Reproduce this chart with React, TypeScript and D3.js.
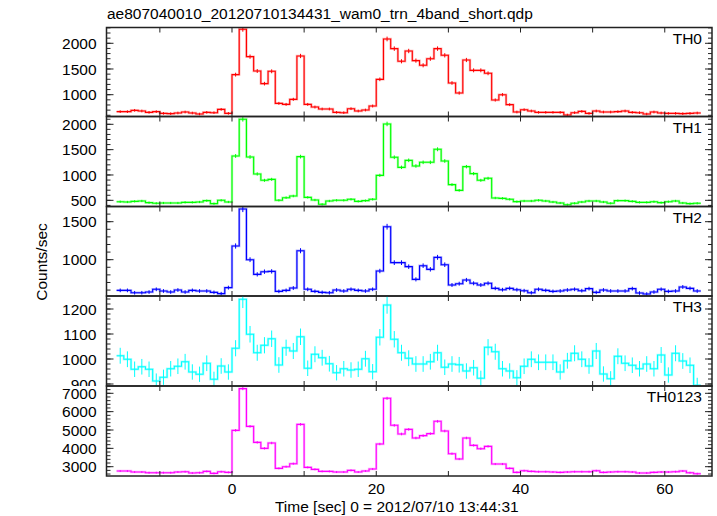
import React from "react";
import * as d3 from "d3";

const TITLE = "ae807040010_20120710134431_wam0_trn_4band_short.qdp";
const X_LABEL = "Time [sec] 0 = 2012/07/10 13:44:31";
const Y_LABEL = "Counts/sec";

const BIN_START = -16;
const BIN_WIDTH = 1;
const X_DOMAIN = [-17.4, 66.55];
const X_TICKS = [-10, 0, 10, 20, 30, 40, 50, 60];
const X_TICK_LABELS = [0, 20, 40, 60];

const TH0 = [670, 670, 696, 683, 657, 670, 637, 631, 644, 663, 644, 624, 657, 650, 715, 637,
  1390, 2273, 1740, 1461, 1215, 1455, 832, 812, 910, 1753, 812, 760, 722, 722, 657, 650, 728, 683,
  702, 780, 1299, 2084, 1896, 1650, 1850, 1663, 1572, 1700, 1896, 1766, 1228, 1033, 1675, 1474, 1474, 1416,
  897, 1000, 806, 663, 708, 683, 657, 657, 657, 657, 605, 650, 676, 637, 683, 663, 663, 670, 683, 657, 650,
  624, 663, 644, 637, 637, 631, 637, 644];

const TH1 = [473, 467, 480, 487, 454, 441, 447, 447, 447, 460, 460, 467, 493, 434, 500, 467,
  1375, 2099, 1355, 1020, 895, 914, 500, 552, 585, 1362, 559, 506, 421, 487, 500, 500, 520, 480,
  493, 520, 993, 2007, 1349, 1151, 1289, 1178, 1250, 1250, 1507, 1276, 809, 697, 1164, 1026, 895, 934,
  546, 539, 520, 474, 487, 487, 500, 487, 467, 447, 414, 441, 467, 487, 487, 467, 441, 493, 493, 480, 460,
  460, 473, 454, 473, 487, 447, 434, 441];

const TH2 = [596, 596, 565, 565, 574, 610, 588, 574, 601, 574, 596, 588, 588, 570, 553, 632,
  1180, 1667, 1000, 807, 842, 846, 583, 596, 627, 1118, 610, 583, 570, 565, 601, 588, 610, 596,
  588, 610, 851, 1434, 961, 961, 908, 741, 921, 873, 1031, 934, 667, 684, 733, 689, 667, 689,
  623, 605, 623, 605, 592, 565, 610, 596, 583, 588, 601, 610, 592, 619, 570, 601, 588, 588, 588, 619, 561,
  548, 574, 610, 583, 588, 641, 623, 588];

const TH3 = [1013, 999, 959, 969, 959, 912, 927, 961, 971, 989, 948, 939, 983, 919, 972, 948,
  1043, 1239, 1099, 1025, 1055, 1081, 976, 1045, 1032, 1089, 963, 1019, 1005, 981, 945, 961, 956,
  959, 1001, 949, 1087, 1216, 1079, 1025, 1003, 980, 980, 989, 1025, 967, 980, 977, 952, 965, 923,
  1047, 1029, 961, 952, 925, 971, 999, 987, 987, 987, 948, 993, 1023, 999, 972, 1032, 940, 921, 1011,
  983, 975, 961, 980, 961, 1016, 936, 1023, 992, 975, 895];

const TH0123 = [2764, 2764, 2709, 2709, 2673, 2673, 2673, 2673, 2709, 2727, 2655, 2673, 2745, 2636, 2727, 2691,
  4982, 7254, 5200, 4327, 4000, 4291, 2909, 3000, 3164, 5309, 2964, 2855, 2745, 2745, 2709, 2709, 2800, 2709,
  2764, 2873, 4236, 6727, 5255, 4782, 5036, 4564, 4691, 4800, 5473, 4945, 3709, 3418, 4564, 4164, 3982, 4109,
  3145, 3145, 2909, 2691, 2782, 2745, 2727, 2727, 2709, 2691, 2709, 2727, 2727, 2727, 2782, 2691, 2709,
  2727, 2727, 2709, 2655, 2655, 2691, 2709, 2709, 2727, 2764, 2673, 2618];

const PANEL_NAMES = ["TH0", "TH1", "TH2", "TH3", "TH0123"];
const PANEL_VALUES = [TH0, TH1, TH2, TH3, TH0123];
const PANEL_COLORS = ["#ff0000", "#00ff00", "#0000ff", "#00ffff", "#ff00ff"];
const PANEL_DOMAINS = [[576, 2307], [378, 2154], [522, 1700], [892, 1252], [2493, 7398]];
const PANEL_MAJOR = [[1000, 1500, 2000], [500, 1000, 1500, 2000], [1000, 1500], [900, 1000, 1100, 1200], [3000, 4000, 5000, 6000, 7000]];
const PANEL_MINOR_STEP = [100, 100, 100, 20, 200];

const W = 717;
const H = 516;
const LEFT = 106.5;
const RIGHT = 712;
const EDGES = [27.5, 116.5, 206.5, 296, 386, 476];
const FONT = "'Liberation Sans', Arial, Helvetica, sans-serif";
const FS = 15.5;
const FRAME = "#222";

export default function App() {
  const x = d3.scaleLinear().domain(X_DOMAIN).range([LEFT, RIGHT]);

  return (
    <svg width={W} height={H} style={{ position: "absolute", left: 0, top: 0, background: "#fff" }}
      fontFamily={FONT}>
      <rect x={0} y={0} width={W} height={H} fill="#fff" />
      <defs>
        {PANEL_NAMES.map((n, i) => (
          <clipPath id={`clip${i}`} key={n}>
            <rect x={LEFT} y={EDGES[i]} width={RIGHT - LEFT} height={EDGES[i + 1] - EDGES[i]} />
          </clipPath>
        ))}
        {PANEL_NAMES.map((n, i) => (
          <clipPath id={`lclip${i}`} key={`l${n}`}>
            <rect x={0} y={EDGES[i] - 12} width={LEFT} height={EDGES[i + 1] - EDGES[i] + 12} />
          </clipPath>
        ))}
      </defs>
      <text x={107} y={18.5} fontSize={FS} fill="#000">{TITLE}</text>
      {PANEL_NAMES.map((name, i) => {
        const vals = PANEL_VALUES[i];
        const top = EDGES[i];
        const bot = EDGES[i + 1];
        const y = d3.scaleLinear().domain(PANEL_DOMAINS[i]).range([bot, top]);
        const pts: [number, number][] = [];
        vals.forEach((v, k) => {
          const t0 = BIN_START + k * BIN_WIDTH;
          pts.push([t0, v]);
          pts.push([t0 + BIN_WIDTH, v]);
        });
        const line = d3.line<[number, number]>().x((d) => x(d[0])).y((d) => y(d[1]));
        const step = PANEL_MINOR_STEP[i];
        const [d0, d1] = PANEL_DOMAINS[i];
        const minor = d3.range(Math.ceil(d0 / step) * step, d1, step);
        const color = PANEL_COLORS[i];
        return (
          <g key={name}>
            <g clipPath={`url(#clip${i})`}>
              <path d={line(pts) || ""} fill="none" stroke={color} strokeWidth={2.4} strokeOpacity={0.3} />
              <path d={line(pts) || ""} fill="none" stroke={color} strokeWidth={1.1} />
              {vals.map((v, k) => {
                const tc = BIN_START + (k + 0.5) * BIN_WIDTH;
                const e = Math.sqrt(v / BIN_WIDTH);
                return (
                  <line key={k} x1={x(tc)} x2={x(tc)} y1={y(v - e)} y2={y(v + e)} stroke={color} strokeWidth={1} />
                );
              })}
            </g>
            {minor.map((m) => (
              <g key={`m${m}`}>
                <line x1={LEFT} x2={LEFT + 4} y1={y(m)} y2={y(m)} stroke={FRAME} strokeWidth={1} />
                <line x1={RIGHT} x2={RIGHT - 4} y1={y(m)} y2={y(m)} stroke={FRAME} strokeWidth={1} />
              </g>
            ))}
            {PANEL_MAJOR[i].map((m) => (
              <g key={`M${m}`}>
                <line x1={LEFT} x2={LEFT + 7} y1={y(m)} y2={y(m)} stroke={FRAME} strokeWidth={1} />
                <line x1={RIGHT} x2={RIGHT - 7} y1={y(m)} y2={y(m)} stroke={FRAME} strokeWidth={1} />
              </g>
            ))}
            <g clipPath={`url(#lclip${i})`}>
              {PANEL_MAJOR[i].map((m) => (
                <text key={`L${m}`} x={96.5} y={y(m)} dy="0.36em" textAnchor="end" fontSize={FS} fill="#000">{m}</text>
              ))}
            </g>
            {X_TICKS.map((t) => (
              <g key={`x${t}`}>
                <line x1={x(t)} x2={x(t)} y1={top} y2={top + 5} stroke={FRAME} strokeWidth={1} />
                <line x1={x(t)} x2={x(t)} y1={bot} y2={bot - 5} stroke={FRAME} strokeWidth={1} />
              </g>
            ))}
            <rect x={LEFT} y={top} width={RIGHT - LEFT} height={bot - top} fill="none" stroke={FRAME} strokeWidth={1.5} />
            <text x={702} y={top + 16} textAnchor="end" fontSize={FS} fill="#000">{name}</text>
          </g>
        );
      })}
      {X_TICK_LABELS.map((t) => (
        <text key={t} x={x(t)} y={493.5} textAnchor="middle" fontSize={FS} fill="#000">{t}</text>
      ))}
      <text x={396.8} y={511.5} textAnchor="middle" fontSize={FS} fill="#000">{X_LABEL}</text>
      <text transform="translate(46.5,262) rotate(-90)" textAnchor="middle" fontSize={FS} fill="#000">{Y_LABEL}</text>
    </svg>
  );
}
